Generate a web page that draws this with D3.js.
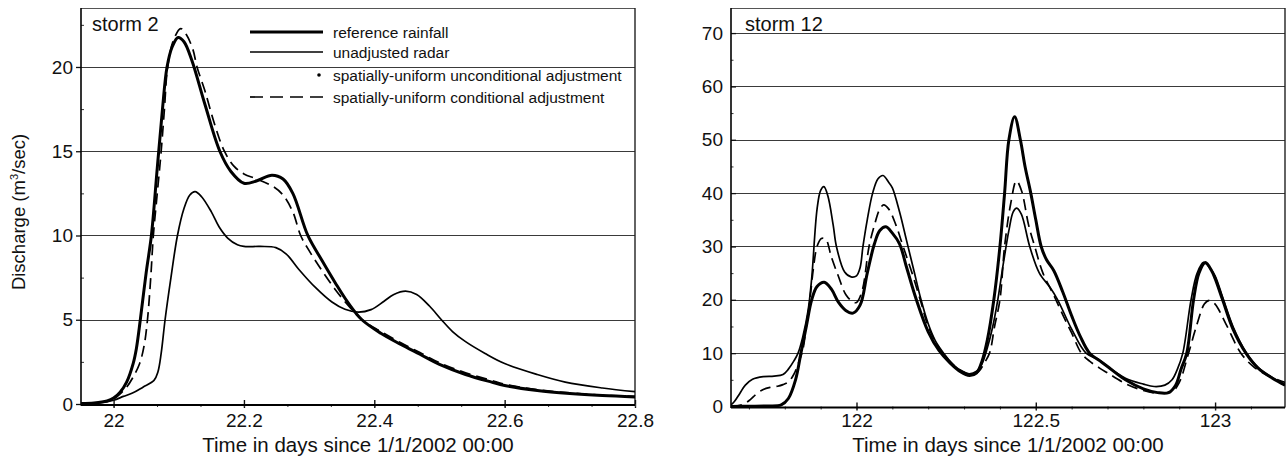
<!DOCTYPE html>
<html>
<head>
<meta charset="utf-8">
<script src="https://cdn.jsdelivr.net/npm/d3@7"></script>
<style>
  html, body { margin: 0; padding: 0; background: #fff; }
  svg text { font-family: "Liberation Sans", Arial, Helvetica, sans-serif; fill: #111; }
</style>
</head>
<body>
<svg id="chart" width="1286" height="459"></svg>
<script>
// ---------------- DATA ----------------
// Storm 2 (left panel)
const storm2RefTime = [21.95, 21.97, 21.99, 22.0, 22.01, 22.02, 22.03, 22.035, 22.041, 22.05, 22.058, 22.067, 22.075, 22.082, 22.09, 22.099, 22.108, 22.12, 22.14, 22.163, 22.18, 22.2, 22.22, 22.243, 22.26, 22.275, 22.298, 22.32, 22.34, 22.36, 22.381, 22.41, 22.44, 22.47, 22.5, 22.54, 22.58, 22.6, 22.65, 22.7, 22.75, 22.8];
const storm2RefQ    = [0.03, 0.06, 0.18, 0.35, 0.7, 1.3, 2.4, 3.3, 5.0, 7.8, 10, 14, 17.5, 20.0, 21.2, 21.75, 21.5, 20.4, 17.8, 15.0, 13.8, 13.1, 13.25, 13.58, 13.35, 12.5, 10.0, 8.5, 7.2, 6.0, 5.0, 4.2, 3.55, 2.95, 2.35, 1.75, 1.3, 1.1, 0.8, 0.62, 0.5, 0.42];

const storm2RadarTime = [21.95, 21.98, 22.0, 22.015, 22.029, 22.045, 22.062, 22.068, 22.073, 22.079, 22.088, 22.098, 22.108, 22.117, 22.125, 22.135, 22.15, 22.162, 22.175, 22.19, 22.2, 22.225, 22.249, 22.265, 22.284, 22.31, 22.335, 22.355, 22.376, 22.395, 22.415, 22.43, 22.448, 22.465, 22.485, 22.503, 22.52, 22.54, 22.57, 22.6, 22.65, 22.693, 22.75, 22.8];
const storm2RadarQ    = [0.05, 0.08, 0.22, 0.45, 0.65, 1.0, 1.4, 1.9, 3.0, 5.0, 7.5, 10, 11.6, 12.4, 12.6, 12.3, 11.4, 10.5, 9.85, 9.45, 9.35, 9.35, 9.28, 8.9, 8.0, 6.9, 6.05, 5.62, 5.45, 5.6, 6.1, 6.5, 6.7, 6.5, 5.8, 5.0, 4.3, 3.7, 3.0, 2.4, 1.75, 1.3, 0.95, 0.73];

const storm2CondTime = [21.95, 21.97, 21.99, 22.0, 22.01, 22.02, 22.03, 22.04, 22.047, 22.052, 22.057, 22.061, 22.067, 22.073, 22.078, 22.083, 22.092, 22.103, 22.112, 22.122, 22.128, 22.14, 22.155, 22.17, 22.185, 22.2, 22.22, 22.245, 22.26, 22.275, 22.287, 22.3, 22.32, 22.34, 22.36, 22.381, 22.41, 22.44, 22.47, 22.5, 22.54, 22.58, 22.6, 22.65, 22.7, 22.75, 22.8];
const storm2CondQ    = [0.03, 0.06, 0.17, 0.3, 0.6, 1.0, 1.6, 2.4, 3.5, 5.0, 7.5, 10, 12.5, 15, 17.5, 20, 21.6, 22.28, 21.9, 21.0, 20.0, 18.6, 16.6, 15.0, 14.1, 13.65, 13.35, 12.9, 12.4, 11.4, 10.0, 9.1, 7.9, 6.8, 5.85, 5.0, 4.3, 3.65, 3.05, 2.45, 1.85, 1.4, 1.18, 0.85, 0.66, 0.52, 0.45];

// Storm 12 (right panel)
const storm12RefTime = [121.65, 121.7, 121.75, 121.79, 121.81, 121.83, 121.845, 121.86, 121.875, 121.89, 121.91, 121.93, 121.95, 121.97, 121.99, 122.01, 122.03, 122.05, 122.065, 122.082, 122.1, 122.12, 122.14, 122.167, 122.2, 122.23, 122.26, 122.29, 122.315, 122.335, 122.35, 122.365, 122.383, 122.4, 122.413, 122.425, 122.441, 122.457, 122.47, 122.486, 122.5, 122.515, 122.53, 122.55, 122.575, 122.6, 122.625, 122.65, 122.678, 122.7, 122.75, 122.8, 122.84, 122.87, 122.89, 122.905, 122.921, 122.94, 122.955, 122.973, 122.99, 123.0, 123.021, 123.05, 123.086, 123.12, 123.16, 123.195];
const storm12RefQ    = [0.0, 0.05, 0.1, 0.3, 1.5, 5, 10, 15, 20, 22.5, 23.3, 22.0, 19.5, 18.0, 17.5, 19, 25, 30.5, 33, 33.7, 32.5, 30.5, 26, 20, 14, 10.5, 8.2, 6.5, 5.8, 6.3, 8.5, 12.5, 20, 30, 40, 50, 54.3, 50, 45, 40, 35, 30, 27.5, 25.5, 21.5, 17, 13, 10, 8.6, 7.5, 5.0, 3.3, 2.6, 2.6, 4, 7, 10, 20, 25, 27, 25.5, 24, 20, 14.5, 10, 7.2, 5.3, 4.0];

const storm12RadarTime = [121.65, 121.66, 121.675, 121.69, 121.71, 121.74, 121.77, 121.795, 121.81, 121.825, 121.837, 121.85, 121.865, 121.875, 121.89, 121.9, 121.909, 121.92, 121.935, 121.944, 121.967, 121.985, 122.0, 122.01, 122.018, 122.03, 122.045, 122.06, 122.074, 122.09, 122.1, 122.12, 122.14, 122.16, 122.18, 122.2, 122.22, 122.245, 122.27, 122.295, 122.315, 122.335, 122.35, 122.365, 122.38, 122.394, 122.41, 122.425, 122.437, 122.447, 122.46, 122.483, 122.51, 122.54, 122.561, 122.6, 122.64, 122.678, 122.7, 122.75, 122.8, 122.83, 122.86, 122.88, 122.895, 122.91, 122.933, 122.95, 122.968, 122.985, 123.0, 123.021, 123.05, 123.086, 123.12, 123.16, 123.195];
const storm12RadarQ    = [0.3, 1.0, 2.5, 4.0, 5.1, 5.6, 5.7, 6.0, 7.0, 8.5, 10, 13, 18, 24, 37, 40.5, 41.2, 39.5, 34, 30, 25.2, 24.3, 24.5, 26, 30, 35, 40, 42.7, 43.3, 42, 41, 36.5, 31, 25.5, 20, 15.5, 12.3, 9.8, 7.8, 6.6, 6.1, 6.6, 8, 11, 15, 20, 27, 33, 36.5, 37.2, 36, 30, 25, 22.3, 20, 14.5, 10, 8.7, 7.5, 5.3, 4.2, 3.75, 4.0, 5.0, 7.0, 10, 20, 25, 27, 26, 24.5, 20.5, 15, 10.2, 7.3, 5.4, 4.1];

const storm12CondTime = [121.65, 121.68, 121.703, 121.72, 121.74, 121.76, 121.78, 121.795, 121.81, 121.825, 121.84, 121.85, 121.86, 121.87, 121.88, 121.89, 121.902, 121.914, 121.93, 121.949, 121.97, 121.99, 122.0, 122.015, 122.035, 122.05, 122.065, 122.076, 122.09, 122.11, 122.13, 122.155, 122.18, 122.2, 122.23, 122.26, 122.29, 122.32, 122.34, 122.355, 122.371, 122.385, 122.4, 122.413, 122.43, 122.446, 122.46, 122.48, 122.497, 122.52, 122.552, 122.58, 122.6, 122.627, 122.65, 122.678, 122.7, 122.75, 122.8, 122.84, 122.88, 122.9, 122.926, 122.95, 122.97, 122.984, 123.0, 123.03, 123.072, 123.11, 123.15, 123.195];
const storm12CondQ    = [0.0, 0.3, 1.25, 2.3, 3.2, 3.6, 3.8, 4.1, 4.6, 6, 8.5, 10.5, 15, 20, 26, 30, 31.5, 31.4, 28, 24.5, 21, 19.6, 19.5, 21.5, 30, 34, 37, 37.8, 37, 34, 30, 25, 19.5, 15, 11, 8.5, 6.8, 6.0, 6.5, 8, 10, 15, 20, 30, 38, 42.3, 40.5, 34, 30, 25, 20.6, 16.5, 13.8, 10, 8.5, 7.2, 6.3, 4.3, 3.0, 2.5, 2.8, 4.5, 10, 15.5, 19.2, 19.9, 19.2, 15.5, 10, 7.3, 5.7, 4.5];

// Ticks and labels
const storm2XTicks = [22, 22.2, 22.4, 22.6, 22.8];
const storm2YTicks = [0, 5, 10, 15, 20];
const storm12XTicks = [122, 122.5, 123];
const storm12YTicks = [0, 10, 20, 30, 40, 50, 60, 70];
const legendLabels = ["reference rainfall", "unadjusted radar", "spatially-uniform unconditional adjustment", "spatially-uniform conditional adjustment"];
const xTitle = "Time in days since 1/1/2002 00:00";

// ---------------- DRAW ----------------
const svg = d3.select("#chart");
const zip = (t, q) => t.map((v, i) => [v, q[i]]);
const styles = {
  ref:   { w: 3.0, dash: null },
  radar: { w: 1.7, dash: null },
  cond:  { w: 1.7, dash: "11,6" }
};

function minorRange(a, b, step) {
  const out = [];
  const n = Math.round((b - a) / step);
  for (let i = 0; i <= n; i++) out.push(+(a + i * step).toFixed(6));
  return out;
}

function drawPanel(o) {
  const g = svg.append("g");
  const x = d3.scaleLinear().domain(o.xDomain).range([o.left, o.right]);
  const y = d3.scaleLinear().domain(o.yDomain).range([o.bottom, o.top]);

  // gridlines
  g.append("g").selectAll("line").data(o.yTicks.filter(v => v > 0)).join("line")
    .attr("x1", o.left).attr("x2", o.right)
    .attr("y1", d => Math.round(y(d)) + 0.5).attr("y2", d => Math.round(y(d)) + 0.5)
    .attr("stroke", "#3a3a3a").attr("stroke-width", 1.1);

  // frame top & right
  g.append("line").attr("x1", o.left).attr("x2", o.right).attr("y1", o.top + 0.5).attr("y2", o.top + 0.5)
    .attr("stroke", "#555").attr("stroke-width", 1.2);
  g.append("line").attr("x1", o.right).attr("x2", o.right).attr("y1", o.top).attr("y2", o.bottom + 1)
    .attr("stroke", "#222").attr("stroke-width", 1.4);

  // clip
  const cid = "clip" + o.id;
  svg.append("defs").append("clipPath").attr("id", cid).append("rect")
    .attr("x", o.left).attr("y", o.top).attr("width", o.right - o.left).attr("height", o.bottom - o.top + 2);

  const line = d3.line().x(d => x(d[0])).y(d => y(d[1])).curve(d3.curveCatmullRom.alpha(0.5));
  const lg = g.append("g").attr("clip-path", `url(#${cid})`);
  o.series.forEach(s => {
    const st = styles[s.style];
    lg.append("path").datum(zip(s.t, s.q))
      .attr("d", line).attr("fill", "none").attr("stroke", "#000")
      .attr("stroke-width", st.w).attr("stroke-linejoin", "round")
      .attr("stroke-dasharray", st.dash);
  });

  // y axis
  const yAx = d3.axisLeft(y).tickValues(o.yTicks).tickSize(o.yTickSize).tickPadding(o.yPad).tickFormat(d3.format("d"));
  const ya = g.append("g").attr("transform", `translate(${o.left},0)`).call(yAx);
  ya.select(".domain").remove();
  ya.selectAll("text").style("font-size", "19px").attr("fill", "#111");
  ya.selectAll("line").attr("stroke", "#111").attr("stroke-width", 1.3);
  const yMin = d3.axisLeft(y).tickValues(o.yMinor).tickSize(o.yMinorSize).tickFormat("");
  const ym = g.append("g").attr("transform", `translate(${o.left},0)`).call(yMin);
  ym.select(".domain").remove();
  ym.selectAll("line").attr("stroke", "#333").attr("stroke-width", 1);

  // x axis
  const xAx = d3.axisBottom(x).tickValues(o.xTicks).tickSize(4).tickFormat(d => String(d));
  const xa = g.append("g").attr("transform", `translate(0,${o.bottom})`).call(xAx);
  xa.select(".domain").remove();
  xa.selectAll("line").attr("y1", -4).attr("y2", 4).attr("stroke", "#111").attr("stroke-width", 1.4);
  xa.selectAll("text").style("font-size", "19px").attr("y", o.xLabelOffset).attr("dy", 0).attr("fill", "#111");
  const xMin = d3.axisBottom(x).tickValues(o.xMinor).tickSize(3).tickFormat("");
  const xm = g.append("g").attr("transform", `translate(0,${o.bottom})`).call(xMin);
  xm.select(".domain").remove();
  xm.selectAll("line").attr("stroke", "#333").attr("stroke-width", 1);

  // axis lines
  g.append("line").attr("x1", o.left).attr("x2", o.left).attr("y1", o.top).attr("y2", o.bottom + 1.5)
    .attr("stroke", "#000").attr("stroke-width", 1.6);
  g.append("line").attr("x1", o.left).attr("x2", o.right).attr("y1", o.bottom + 1).attr("y2", o.bottom + 1)
    .attr("stroke", "#000").attr("stroke-width", 2);

  // storm label
  g.append("text").attr("x", o.labelX).attr("y", 31).style("font-size", "20px").text(o.label);

  // x title
  g.append("text").attr("x", o.titleX).attr("y", 452).attr("text-anchor", "middle")
    .style("font-size", "20.5px").text(xTitle);

  return { x, y, g };
}

const left = drawPanel({
  id: "a", left: 81, right: 635, top: 8, bottom: 404,
  xDomain: [21.95, 22.8], yDomain: [0, 23.5],
  xTicks: storm2XTicks, yTicks: storm2YTicks,
  xMinor: minorRange(22, 22.8, 0.2 / 3), yMinor: minorRange(2.5, 22.5, 5),
  yTickSize: 5, yPad: 3, yMinorSize: -3, xLabelOffset: 23,
  label: "storm 2", labelX: 92, titleX: 358,
  series: [
    { t: storm2RadarTime, q: storm2RadarQ, style: "radar" },
    { t: storm2CondTime, q: storm2CondQ, style: "cond" },
    { t: storm2RefTime, q: storm2RefQ, style: "ref" }
  ]
});

const right = drawPanel({
  id: "b", left: 731, right: 1285, top: 8, bottom: 406.5,
  xDomain: [121.65, 123.195], yDomain: [0, 74.7],
  xTicks: storm12XTicks, yTicks: storm12YTicks,
  xMinor: minorRange(121.7, 123.1, 0.1), yMinor: minorRange(5, 65, 10),
  yTickSize: -5, yPad: 8, yMinorSize: -2.5, xLabelOffset: 20.5,
  label: "storm 12", labelX: 745, titleX: 1008,
  series: [
    { t: storm12RadarTime, q: storm12RadarQ, style: "radar" },
    { t: storm12CondTime, q: storm12CondQ, style: "cond" },
    { t: storm12RefTime, q: storm12RefQ, style: "ref" }
  ]
});

// y title (left panel)
const yt = svg.append("text").attr("transform", "translate(25,212) rotate(-90)")
  .attr("text-anchor", "middle").style("font-size", "18.5px");
yt.append("tspan").text("Discharge (m");
yt.append("tspan").attr("dy", -7).style("font-size", "11px").text("3");
yt.append("tspan").attr("dy", 7).text("/sec)");

// legend (left panel)
const legY = [32, 52, 75, 97];
const legKinds = ["ref", "radar", "dot", "cond"];
const lgd = svg.append("g");
legKinds.forEach((k, i) => {
  const yy = legY[i];
  if (k === "dot") {
    lgd.append("circle").attr("cx", 319).attr("cy", yy).attr("r", 1.8).attr("fill", "#000");
  } else {
    const st = styles[k];
    lgd.append("line").attr("x1", 250).attr("x2", 323).attr("y1", yy).attr("y2", yy)
      .attr("stroke", "#000").attr("stroke-width", st.w).attr("stroke-dasharray", k === "cond" ? "13,7" : null);
  }
  lgd.append("text").attr("x", 333).attr("y", yy + 5.5).style("font-size", "15.5px").text(legendLabels[i]);
});
</script>
</body>
</html>
